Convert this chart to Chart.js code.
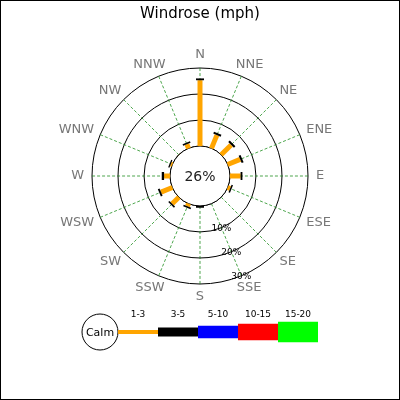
<!DOCTYPE html>
<html>
<head>
<meta charset="utf-8">
<script src="https://cdn.jsdelivr.net/npm/chart.js@4"></script>
<style>
  html, body { margin: 0; padding: 0; background: #fff; }
  canvas { display: block; }
</style>
</head>
<body>
<canvas id="windrose" width="400" height="400"></canvas>
<script>
// Wind directions, clockwise from north
const directions = ['N', 'NNE', 'NE', 'ENE', 'E', 'ESE', 'SE', 'SSE',
                    'S', 'SSW', 'SW', 'WSW', 'W', 'WNW', 'NW', 'NNW'];

// Frequency (%) per direction for each speed bin
const speed1to3 = [25.3, 5.5, 5.4, 5.2, 4.1, 1.0, 0.0, 0.0, 0.0, 1.1, 3.6, 4.7, 2.3, 0.6, 0.1, 1.7];
const speed3to5 = [0.7, 0.8, 0.8, 0.8, 0.7, 0.6, 0.0, 0.0, 0.7, 0.6, 0.6, 0.7, 0.9, 0.5, 0.1, 0.6];

const calmPercent = 26;
const ringValues = [10, 20, 30];
const binLabels = ['1-3', '3-5', '5-10', '10-15', '15-20'];
const binColors = ['orange', 'black', 'blue', 'red', 'lime'];

const FONT = 'DejaVu Sans';

// Draws the frame, spokes, calm circle, bars, labels and the speed legend
const windrosePlugin = {
  id: 'windrose',
  beforeDraw(chart) {
    const ctx = chart.ctx;
    ctx.save();
    ctx.fillStyle = '#fff';
    ctx.fillRect(0, 0, chart.width, chart.height);
    ctx.restore();
  },
  afterDatasetsDraw(chart) {
    const ctx = chart.ctx;
    const scale = chart.scales.r;
    const cx = scale.xCenter, cy = scale.yCenter;
    const calmR = scale.getDistanceFromCenterForValue(0);

    ctx.save();

    // dashed spokes from the calm circle to the outer ring
    ctx.strokeStyle = 'green';
    ctx.lineWidth = 0.7;
    ctx.setLineDash([3, 2]);
    directions.forEach((d, i) => {
      const p0 = scale.getPointPositionForValue(i, 0);
      const p1 = scale.getPointPositionForValue(i, scale.max);
      ctx.beginPath();
      ctx.moveTo(p0.x, p0.y);
      ctx.lineTo(p1.x, p1.y);
      ctx.stroke();
    });
    ctx.setLineDash([]);

    // calm circle
    ctx.beginPath();
    ctx.arc(cx, cy, calmR, 0, Math.PI * 2);
    ctx.fillStyle = '#fff';
    ctx.fill();
    ctx.lineWidth = 1;
    ctx.strokeStyle = '#000';
    ctx.stroke();

    // stacked bars, one per direction
    ctx.lineCap = 'butt';
    directions.forEach((d, i) => {
      let base = 0;
      chart.data.datasets.forEach((ds) => {
        const v = ds.data[i];
        if (v > 0) {
          const p0 = scale.getPointPositionForValue(i, base);
          const p1 = scale.getPointPositionForValue(i, base + v);
          ctx.beginPath();
          ctx.moveTo(p0.x, p0.y);
          ctx.lineTo(p1.x, p1.y);
          ctx.lineWidth = ds.barWidth;
          ctx.strokeStyle = ds.borderColor;
          ctx.stroke();
        }
        base += v;
      });
    });

    // calm percentage
    ctx.fillStyle = '#222';
    ctx.font = '14px "' + FONT + '"';
    ctx.textAlign = 'center';
    ctx.textBaseline = 'middle';
    ctx.fillText(calmPercent + '%', cx, cy + 1);

    // ring labels along the SSE spoke
    ctx.font = '9px "' + FONT + '"';
    ctx.fillStyle = '#000';
    ringValues.forEach((v) => {
      const p = scale.getPointPositionForValue(7, v);
      ctx.fillText(v + '%', p.x, p.y + 1);
    });

    // direction labels, pushed outward by half their box
    ctx.font = '13px "' + FONT + '"';
    ctx.fillStyle = '#777';
    const outer = scale.getDistanceFromCenterForValue(scale.max);
    directions.forEach((d, i) => {
      const p = scale.getPointPosition(i, outer + 8);
      const a = i * Math.PI * 2 / directions.length;
      const w = ctx.measureText(d).width;
      ctx.fillText(d, p.x + Math.sin(a) * w / 2, p.y - Math.cos(a) * 5);
    });

    // speed legend
    const ly = 332;
    const lx = 100;
    ctx.beginPath();
    ctx.arc(lx, ly, 18, 0, Math.PI * 2);
    ctx.fillStyle = '#fff';
    ctx.fill();
    ctx.lineWidth = 1;
    ctx.strokeStyle = '#000';
    ctx.stroke();
    ctx.fillStyle = '#000';
    ctx.font = '11px "' + FONT + '"';
    ctx.fillText('Calm', lx, ly + 1);

    const thick = [4, 9, 12.5, 16.5, 20.5];
    ctx.font = '9px "' + FONT + '"';
    binLabels.forEach((lab, k) => {
      const x0 = 118 + k * 40;
      ctx.fillStyle = binColors[k];
      ctx.fillRect(x0, ly - thick[k] / 2, 40, thick[k]);
      ctx.fillStyle = '#000';
      ctx.fillText(lab, x0 + 20, 315);
    });

    // outer frame
    ctx.strokeStyle = '#000';
    ctx.lineWidth = 1;
    ctx.strokeRect(0.5, 0.5, chart.width - 1, chart.height - 1);

    ctx.restore();
  }
};

const chart = new Chart(document.getElementById('windrose'), {
  type: 'radar',
  data: {
    labels: directions,
    datasets: [
      { label: '1-3', data: speed1to3, borderColor: binColors[0], barWidth: 5,
        showLine: false, fill: false, backgroundColor: 'transparent',
        pointRadius: 0, pointHoverRadius: 0 },
      { label: '3-5', data: speed3to5, borderColor: binColors[1], barWidth: 8,
        showLine: false, fill: false, backgroundColor: 'transparent',
        pointRadius: 0, pointHoverRadius: 0 }
    ]
  },
  options: {
    responsive: false,
    animation: false,
    events: [],
    layout: { padding: { left: 92, right: 92, top: 0, bottom: 116 } },
    plugins: {
      legend: { display: false },
      tooltip: { enabled: false },
      title: {
        display: true,
        text: 'Windrose (mph)',
        color: '#000',
        font: { family: FONT, size: 15, weight: 'normal' },
        padding: { top: 5, bottom: 45 }
      }
    },
    scales: {
      r: {
        min: -11.5,
        max: 30,
        startAngle: 0,
        grid: { circular: true, color: '#000', lineWidth: 1 },
        angleLines: { display: false },
        ticks: { display: false },
        pointLabels: { display: false },
        afterBuildTicks: (scale) => {
          scale.ticks = [0].concat(ringValues).map((v) => ({ value: v }));
        }
      }
    }
  },
  plugins: [windrosePlugin]
});
</script>
</body>
</html>
